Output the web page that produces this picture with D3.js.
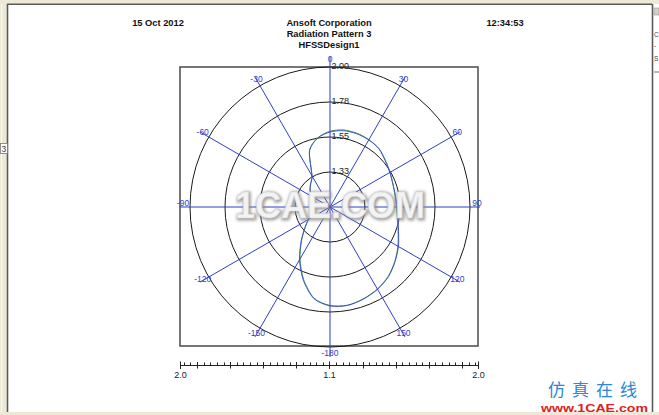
<!DOCTYPE html>
<html><head><meta charset="utf-8">
<script src="https://cdn.jsdelivr.net/npm/d3@7"></script>
<style>body{margin:0;background:#fff;overflow:hidden}svg{display:block}</style>
</head><body>
<svg id="c" width="659" height="415"></svg>
<script>
// ---- data ----
const angles = [-180,-170,-160,-150,-140,-130,-120,-110,-100,-90,-80,-70,-60,-50,-40,-30,-20,-10,0,10,20,30,40,50,60,70,80,90,100,110,120,130,140,150,160,170];
const blueValues = [1.736,1.698,1.601,1.492,1.389,1.312,1.261,1.222,1.203,1.196,1.196,1.209,1.235,1.267,1.293,1.331,1.486,1.550,1.582,1.598,1.601,1.598,1.589,1.563,1.544,1.531,1.527,1.531,1.544,1.569,1.608,1.646,1.685,1.711,1.730,1.743];
const greenValues = [1.733,1.695,1.596,1.486,1.385,1.310,1.258,1.222,1.204,1.198,1.197,1.210,1.237,1.268,1.295,1.333,1.484,1.552,1.587,1.603,1.605,1.600,1.590,1.566,1.546,1.530,1.524,1.527,1.540,1.566,1.604,1.644,1.682,1.709,1.728,1.741];
const ringTicks = [1.325,1.55,1.775,2.0];
const ringLabels = ["1.33","1.55","1.78","2.00"];
const spokeAngles = [0,30,60,90,120,150,180,-150,-120,-90,-60,-30];
const spokeLabels = ["0","30","60","90","120","150","-180","-150","-120","-90","-60","-30"];
const titleLines = ["Ansoft Corporation","Radiation Pattern 3","HFSSDesign1"];
const dateText = "15 Oct 2012";
const timeText = "12:34:53";
const axisMajor = [1.3,1.5,1.7,1.9];
const axisMinor = [1.14,1.18,1.22,1.26,1.34,1.38,1.42,1.46,1.54,1.58,1.62,1.66,1.74,1.78,1.82,1.86,1.94,1.98];
const axisLabels = ["2.0","1.1","2.0"];

// ---- layout ----
const svg = d3.select("#c");
const cx = 330, cy = 207;
const box = {x0:180, y0:67, x1:478, y1:346};
const r = d3.scaleLinear().domain([1.1, 2.0]).range([0, 140]);
const font = "'Liberation Sans', Arial, sans-serif";
const blue = "#2f3fc8";

// chrome
svg.append("rect").attr("x",0).attr("y",0).attr("width",659).attr("height",415).attr("fill","#fff");
svg.append("rect").attr("x",0).attr("y",0).attr("width",659).attr("height",4).attr("fill","#ece9d8");
svg.append("rect").attr("x",0).attr("y",0).attr("width",7).attr("height",415).attr("fill","#ece9d8");
svg.append("line").attr("x1",1.5).attr("x2",1.5).attr("y1",4).attr("y2",415).attr("stroke","#fbfaf4");
svg.append("line").attr("x1",7.5).attr("x2",7.5).attr("y1",4).attr("y2",412).attr("stroke","#5a5a5a").attr("stroke-width",1.6);
svg.append("line").attr("x1",7).attr("x2",652).attr("y1",4.2).attr("y2",4.2).attr("stroke","#5a5a5a").attr("stroke-width",1.6);
svg.append("rect").attr("x",0).attr("y",412).attr("width",659).attr("height",3).attr("fill","#ece9d8");
svg.append("line").attr("x1",652.5).attr("x2",652.5).attr("y1",4).attr("y2",412).attr("stroke","#5a5a5a").attr("stroke-width",1.6);
svg.append("rect").attr("x",654).attr("y",4).attr("width",5).attr("height",408).attr("fill","#fff");
svg.append("rect").attr("x",654).attr("y",8).attr("width",5).attr("height",7).attr("fill","#d4d0c8").attr("stroke","#888").attr("stroke-width",0.5);
svg.append("line").attr("x1",654).attr("x2",659).attr("y1",72).attr("y2",72).attr("stroke","#777");
[["C",37,"#604060"],["-",48,"#444"],["S",61,"#444"]].forEach(d=>{
  svg.append("text").attr("x",654).attr("y",d[1]).text(d[0]).attr("font-family",font).attr("font-size",6.5).attr("fill",d[2]);
});
svg.append("rect").attr("x",0.5).attr("y",143.5).attr("width",7).attr("height",10).attr("fill","#fff").attr("stroke","#777").attr("stroke-width",0.8);
svg.append("text").attr("x",1.5).attr("y",152).text("3").attr("font-family",font).attr("font-size",8.5).attr("fill","#333");

// header
const hdr = svg.append("g").attr("font-family",font).attr("font-size",9.3).attr("font-weight","bold").attr("fill","#111").attr("text-anchor","middle");
hdr.append("text").attr("x",158).attr("y",25.5).text(dateText);
hdr.append("text").attr("x",505).attr("y",25.5).text(timeText);
titleLines.forEach((t,i)=>hdr.append("text").attr("x",329).attr("y",25.5+i*11.2).text(t));

// plot box
svg.append("rect").attr("x",box.x0).attr("y",box.y0).attr("width",box.x1-box.x0).attr("height",box.y1-box.y0)
  .attr("fill","none").attr("stroke","#555").attr("stroke-width",1.6);

const g = svg.append("g").attr("transform",`translate(${cx},${cy})`);

// rings
g.selectAll("circle.ring").data(ringTicks).join("circle").attr("class","ring")
  .attr("r",d=>r(d)).attr("fill","none").attr("stroke","#1a1a1a").attr("stroke-width",1);

// curves
const line = d3.lineRadial().angle(d=>d.a*Math.PI/180).radius(d=>r(d.v)).curve(d3.curveCardinalClosed.tension(0.2));
g.append("path").datum(angles.map((a,i)=>({a,v:greenValues[i]}))).attr("d",line)
  .attr("fill","none").attr("stroke","#3f9a3f").attr("stroke-width",1);
g.append("path").datum(angles.map((a,i)=>({a,v:blueValues[i]}))).attr("d",line)
  .attr("fill","none").attr("stroke","#3a48d8").attr("stroke-width",0.9);

// spokes
const rad = a => a*Math.PI/180;
g.selectAll("line.spoke").data(spokeAngles).join("line").attr("class","spoke")
  .attr("x1",0).attr("y1",0)
  .attr("x2",a=>150*Math.sin(rad(a))).attr("y2",a=>-150*Math.cos(rad(a)))
  .attr("stroke",blue).attr("stroke-width",1);

// ring labels
g.selectAll("text.rl").data(ringTicks).join("text").attr("class","rl")
  .attr("x",1.5).attr("y",d=>-r(d)+1.5).text((d,i)=>ringLabels[i])
  .attr("font-family",font).attr("font-size",9).attr("fill","#222");

// angle labels
g.selectAll("text.al").data(spokeAngles).join("text").attr("class","al")
  .attr("x",a=>147*Math.sin(rad(a)))
  .attr("y",a=>-147*Math.cos(rad(a)) - (Math.abs(a)===90 ? 4 : 1))
  .attr("dy","0.35em").attr("text-anchor","middle").text((a,i)=>spokeLabels[i])
  .attr("font-family",font).attr("font-size",8.5).attr("fill",blue);

// bottom axis
const ax = svg.append("g").attr("transform","translate(0,365.5)");
const xl = d3.scaleLinear().domain([1.1,2.0]).range([329.5,180.5]);
const xr = d3.scaleLinear().domain([1.1,2.0]).range([329.5,478.5]);
ax.append("line").attr("x1",xl(2.0)).attr("x2",xr(2.0)).attr("y1",0).attr("y2",0).attr("stroke","#222");
[xl,xr].forEach(s=>{
  ax.selectAll(null).data(axisMinor).join("line").attr("x1",d=>Math.round(s(d))+0.5).attr("x2",d=>Math.round(s(d))+0.5)
    .attr("y1",-3).attr("y2",0).attr("stroke","#222");
  ax.selectAll(null).data(axisMajor).join("line").attr("x1",d=>Math.round(s(d))+0.5).attr("x2",d=>Math.round(s(d))+0.5)
    .attr("y1",-3.5).attr("y2",3).attr("stroke","#222");
});
ax.selectAll(null).data([xl(2.0),xl(1.1),xr(2.0)]).join("line").attr("x1",d=>d).attr("x2",d=>d)
  .attr("y1",-4).attr("y2",3.5).attr("stroke","#222");
ax.selectAll("text").data([xl(2.0),xl(1.1),xr(2.0)]).join("text")
  .attr("x",d=>d).attr("y",12).attr("text-anchor","middle").text((d,i)=>axisLabels[i])
  .attr("font-family",font).attr("font-size",9).attr("fill","#222");

// watermark
const defs = svg.append("defs");
const f = defs.append("filter").attr("id","blur").attr("x","-10%").attr("y","-30%").attr("width","120%").attr("height","160%");
f.append("feGaussianBlur").attr("stdDeviation",1.6);
const wm = svg.append("g").attr("font-family",font).attr("font-weight","bold").attr("font-size",36).attr("text-anchor","middle");
wm.append("text").attr("x",331).attr("y",219).text("1CAE.COM").attr("fill","#8a8a8a").attr("stroke","#8a8a8a").attr("stroke-width",3).attr("filter","url(#blur)").attr("opacity",0.8);
wm.append("text").attr("x",330).attr("y",218).text("1CAE.COM").attr("fill","#f3f3f3").attr("stroke","#d8d8d8").attr("stroke-width",0.6);

// logo
svg.append("text").attr("x",596).attr("y",396).attr("text-anchor","middle").text("仿真在线")
  .attr("font-family","'Noto Sans CJK SC', sans-serif").attr("font-size",17).attr("letter-spacing",7)
  .attr("fill","#2a86d6");
svg.append("text").attr("x",541).attr("y",411.5).text("www.1CAE.com").attr("textLength",107).attr("lengthAdjust","spacingAndGlyphs")
  .attr("font-family",font).attr("font-weight","bold").attr("font-size",11.5).attr("fill","#e02020");
</script>
</body></html>
